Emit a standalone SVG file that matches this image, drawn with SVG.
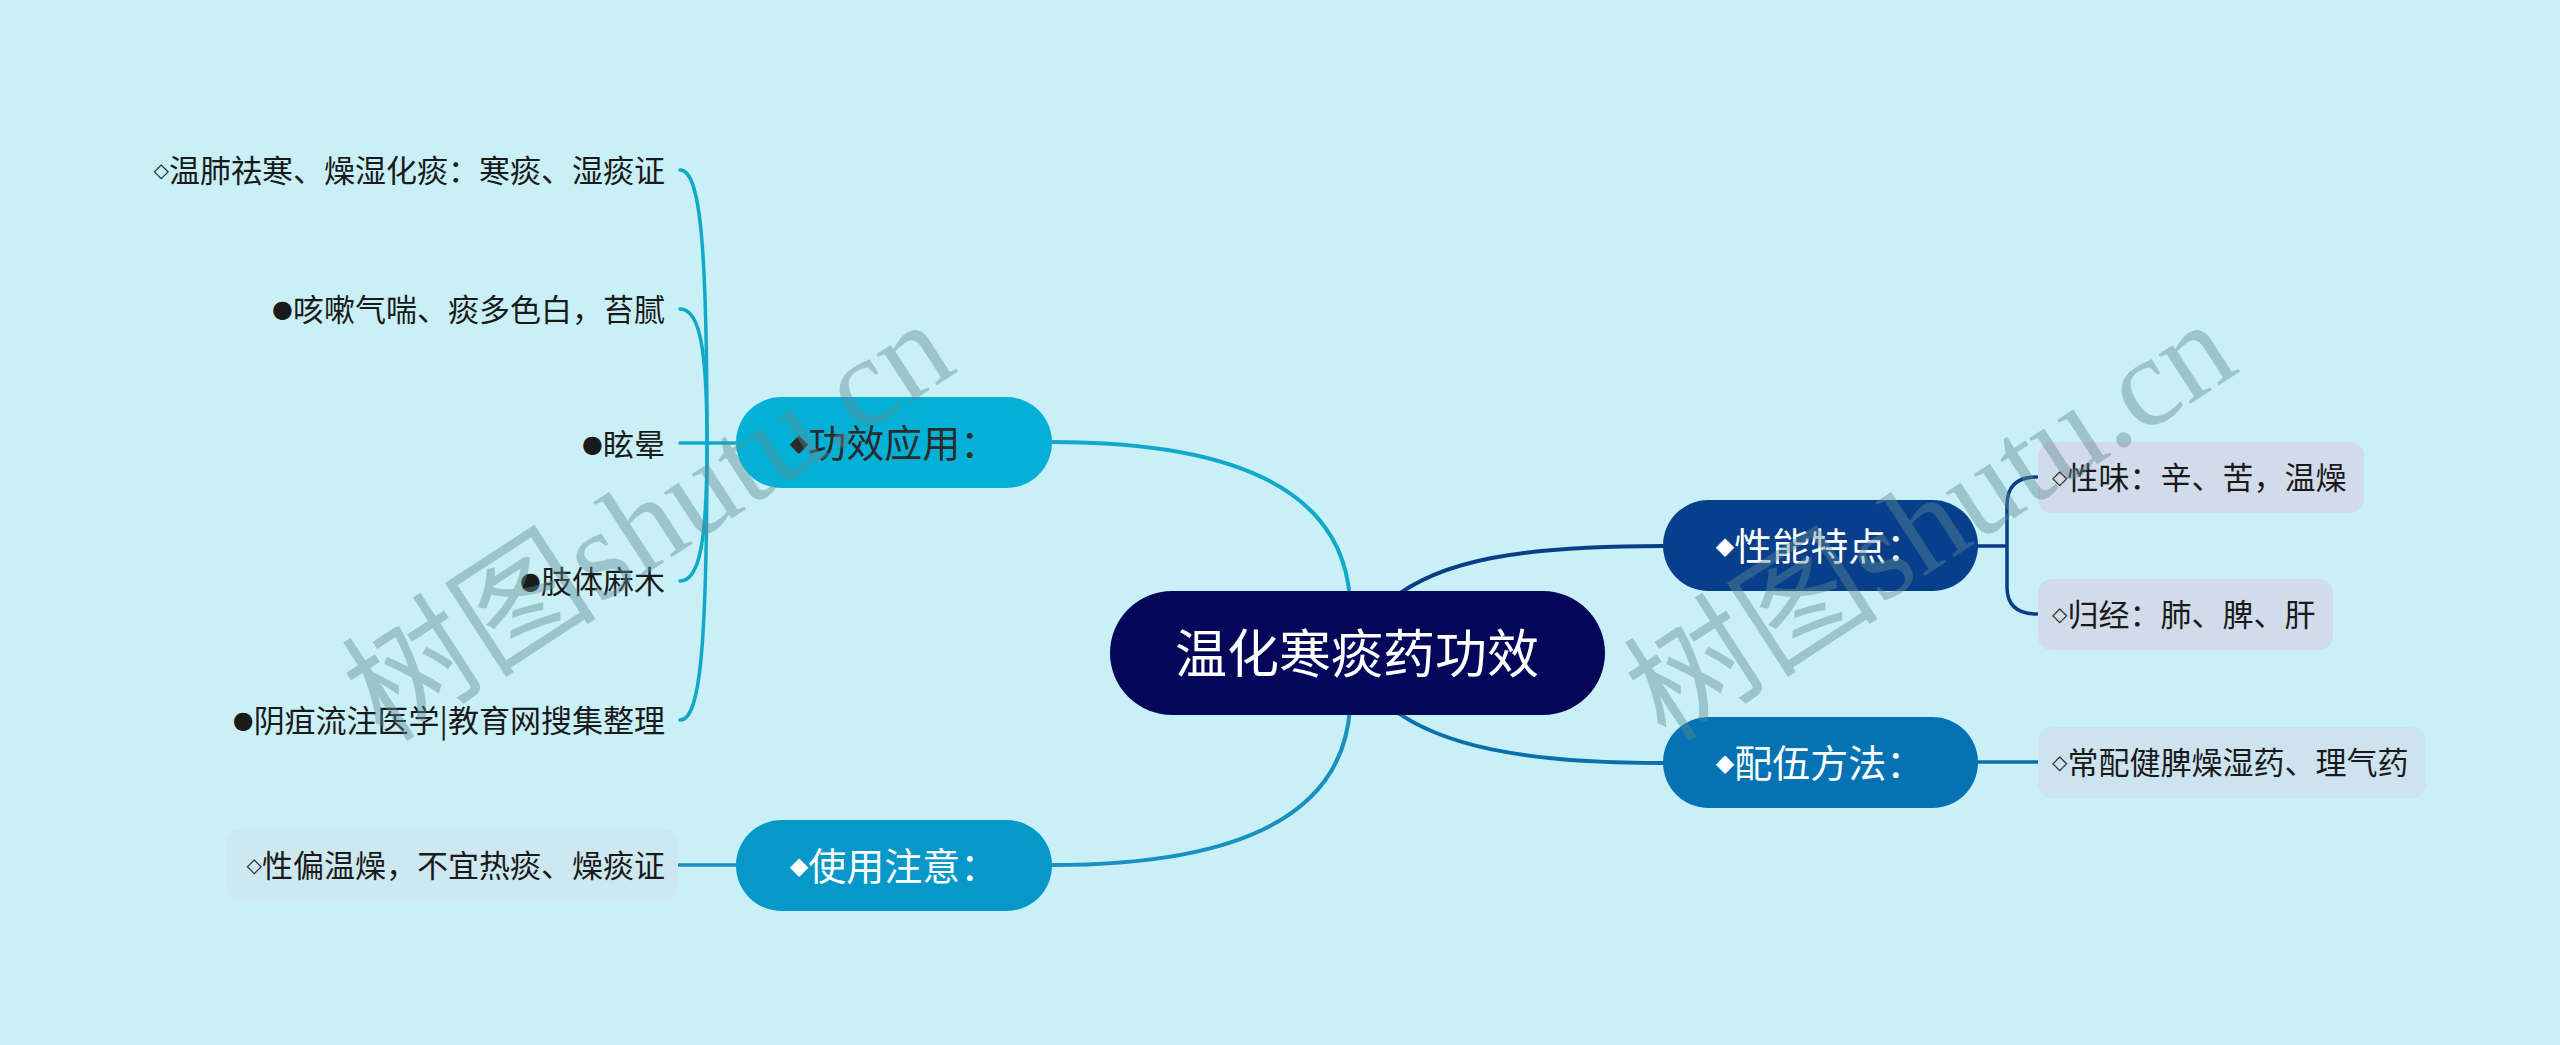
<svg xmlns="http://www.w3.org/2000/svg" width="2560" height="1045" viewBox="0 0 2560 1045">
<style>
.cjk{font-family:"Noto Sans CJK SC","Noto Sans",sans-serif}
.sym{font-family:"DejaVu Sans",sans-serif}
.leaf{font-size:31px;fill:#1a1a1a}
.node{font-size:38px}
.wm{font-family:"Liberation Serif","Noto Sans CJK SC",serif;font-size:128px;fill:#5f8a92;opacity:0.42}
.c{fill:none;stroke-linecap:round}
</style>
<rect x="0" y="0" width="2560" height="1045" fill="#c9f0f7"/>
<g id="connectors">
  <path class="c" d="M1052,442 Q1340,442 1350,600" stroke="#12a9c9" stroke-width="4"/>
  <path class="c" d="M1391,600 C1440,560 1520,546 1663,546" stroke="#0b3c86" stroke-width="4"/>
  <path class="c" d="M1391,708 C1440,745 1520,763 1663,763" stroke="#0b6fad" stroke-width="4"/>
  <path class="c" d="M1350,708 Q1340,865 1052,865" stroke="#1990c0" stroke-width="4"/>
  <path class="c" d="M736,443 L680,443" stroke="#12a9c9" stroke-width="3.5"/>
  <path class="c" d="M680,170 C700,170 707,240 707,443" stroke="#12a9c9" stroke-width="3.5"/>
  <path class="c" d="M680,309 C700,309 707,350 707,443" stroke="#12a9c9" stroke-width="3.5"/>
  <path class="c" d="M680,581 C700,581 707,540 707,443" stroke="#12a9c9" stroke-width="3.5"/>
  <path class="c" d="M680,720 C700,720 707,650 707,443" stroke="#12a9c9" stroke-width="3.5"/>
  <path class="c" d="M1977,546 L2007,546 M2037,477 Q2007,477 2007,505 L2007,587 Q2007,614 2037,614" stroke="#0b3c86" stroke-width="3.5"/>
  <path class="c" d="M1977,762 L2038,762" stroke="#0b6fad" stroke-width="3.5"/>
  <path class="c" d="M736,865 L678,865" stroke="#1990c0" stroke-width="3.5"/>
</g>
<g id="root">
  <rect x="1110" y="591" width="495" height="124" rx="62" fill="#030659"/>
  <text class="cjk" x="1357" y="673" font-size="52" fill="#ffffff" text-anchor="middle">温化寒痰药功效</text>
</g>
<g id="n-gongxiao">
  <rect x="736" y="397" width="316" height="91" rx="45.5" fill="#04b1d6"/>
  <text class="cjk node" x="894" y="457" fill="#2b2b2b" text-anchor="middle"><tspan class="sym" font-size="24" dy="-6">◆</tspan><tspan dy="6">功效应用：</tspan></text>
</g>
<g id="n-shiyong">
  <rect x="736" y="820" width="316" height="91" rx="45.5" fill="#0698c9"/>
  <text class="cjk node" x="894" y="880" fill="#ffffff" text-anchor="middle"><tspan class="sym" font-size="24" dy="-6">◆</tspan><tspan dy="6">使用注意：</tspan></text>
</g>
<g id="n-xingneng">
  <rect x="1663" y="500" width="315" height="91" rx="45.5" fill="#083f8c"/>
  <text class="cjk node" x="1820" y="560" fill="#ffffff" text-anchor="middle"><tspan class="sym" font-size="24" dy="-6">◆</tspan><tspan dy="6">性能特点：</tspan></text>
</g>
<g id="n-peiwu">
  <rect x="1663" y="717" width="315" height="91" rx="45.5" fill="#0573b3"/>
  <text class="cjk node" x="1820" y="777" fill="#ffffff" text-anchor="middle"><tspan class="sym" font-size="24" dy="-6">◆</tspan><tspan dy="6">配伍方法：</tspan></text>
</g>
<g id="l1">
  <text class="cjk leaf" x="665" y="182" text-anchor="end"><tspan class="sym" font-size="20" dy="-5">◇</tspan><tspan dy="5">温肺祛寒、燥湿化痰：寒痰、湿痰证</tspan></text>
</g>
<g id="l2">
  <text class="cjk leaf" x="665" y="321" text-anchor="end"><tspan class="sym" font-size="24" dy="-4">●</tspan><tspan dy="4">咳嗽气喘、痰多色白，苔腻</tspan></text>
</g>
<g id="l3">
  <text class="cjk leaf" x="665" y="456" text-anchor="end"><tspan class="sym" font-size="24" dy="-4">●</tspan><tspan dy="4">眩晕</tspan></text>
</g>
<g id="l4">
  <text class="cjk leaf" x="665" y="593" text-anchor="end"><tspan class="sym" font-size="24" dy="-4">●</tspan><tspan dy="4">肢体麻木</tspan></text>
</g>
<g id="l5">
  <text class="cjk leaf" x="665" y="732" text-anchor="end"><tspan class="sym" font-size="24" dy="-4">●</tspan><tspan dy="4">阴疽流注医学|教育网搜集整理</tspan></text>
</g>
<g id="l6">
  <rect x="227" y="829" width="451" height="72" rx="14" fill="#cde8f1"/>
  <text class="cjk leaf" x="665" y="877" text-anchor="end"><tspan class="sym" font-size="20" dy="-5">◇</tspan><tspan dy="5">性偏温燥，不宜热痰、燥痰证</tspan></text>
</g>
<g id="r1">
  <rect x="2038" y="442" width="326" height="71" rx="14" fill="#d2dbe9"/>
  <text class="cjk leaf" x="2052" y="489"><tspan class="sym" font-size="20" dy="-5">◇</tspan><tspan dy="5">性味：辛、苦，温燥</tspan></text>
</g>
<g id="r2">
  <rect x="2038" y="579" width="295" height="71" rx="14" fill="#d2dbe9"/>
  <text class="cjk leaf" x="2052" y="626"><tspan class="sym" font-size="20" dy="-5">◇</tspan><tspan dy="5">归经：肺、脾、肝</tspan></text>
</g>
<g id="r3">
  <rect x="2038" y="727" width="388" height="71" rx="14" fill="#cde3ef"/>
  <text class="cjk leaf" x="2052" y="774"><tspan class="sym" font-size="20" dy="-5">◇</tspan><tspan dy="5">常配健脾燥湿药、理气药</tspan></text>
</g>
<g id="watermarks">
  <text class="wm" x="649" y="564" text-anchor="middle" transform="rotate(-33 649 522)">树图shutu.cn</text>
  <text class="wm" x="1931" y="564" text-anchor="middle" transform="rotate(-33 1931 522)">树图shutu.cn</text>
</g>
</svg>
